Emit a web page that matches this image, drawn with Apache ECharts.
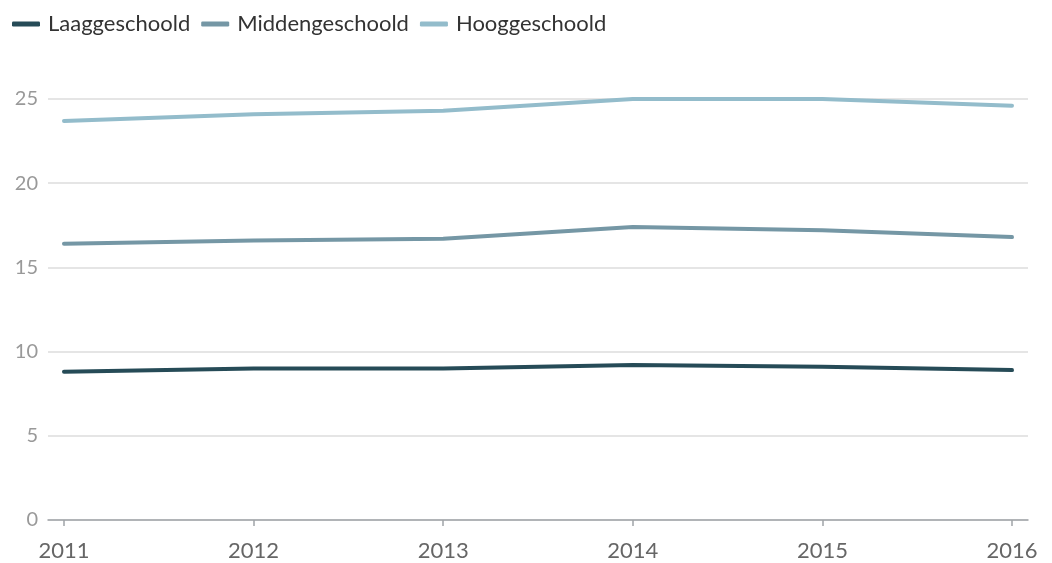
<!DOCTYPE html>
<html><head><meta charset="utf-8">
<script src="https://cdn.jsdelivr.net/npm/echarts@6/dist/echarts.min.js"></script>
<style>html,body{margin:0;padding:0;background:#fff}#c{width:1052px;height:563px}</style>
</head><body><div id="c"></div>
<script>
const years = [2011, 2012, 2013, 2014, 2015, 2016];
const laag = [8.8, 9.0, 9.0, 9.2, 9.1, 8.9];
const midden = [16.4, 16.6, 16.7, 17.4, 17.2, 16.8];
const hoog = [23.7, 24.1, 24.3, 25.0, 25.0, 24.6];
const names = ['Laaggeschoold', 'Middengeschoold', 'Hooggeschoold'];
const colors = ['#264b57', '#7597a5', '#93bccb'];
const pad = 16 / 189.6;
const chart = echarts.init(document.getElementById('c'));
const mk = (name, vals, color) => ({
  name, type: 'line', data: years.map((y, i) => [y, vals[i]]),
  showSymbol: false, symbol: 'none', lineStyle: { width: 4, color, cap: 'round' }, itemStyle: { color },
  emphasis: { disabled: true }, animation: false
});
chart.setOption({
  animation: false,
  textStyle: { fontFamily: 'Lato' },
  legend: {
    left: 7, top: 8, itemWidth: 28, itemHeight: 5, itemGap: 11,
    icon: 'roundRect',
    textStyle: { fontSize: 22, color: '#333', fontFamily: 'Lato', padding: [0, 0, 0, 3] },
    data: names
  },
  grid: { left: 48, right: 24, top: 99, bottom: 43, containLabel: false },
  xAxis: {
    type: 'value', min: years[0] - pad, max: years[years.length - 1] + pad,
    axisLine: { show: true, lineStyle: { color: '#a0a4a8', width: 1.5 } },
    axisTick: { show: true, length: 6, customValues: years, lineStyle: { color: '#a0a4a8', width: 1.5 } },
    axisLabel: { customValues: years, margin: 20, fontSize: 22, color: '#666', fontFamily: 'Lato', formatter: v => String(Math.round(v)) },
    splitLine: { show: false }
  },
  yAxis: {
    type: 'value', min: 0, max: 25, interval: 5,
    axisLine: { show: false }, axisTick: { show: false },
    axisLabel: { margin: 10, fontSize: 20, color: '#999', fontFamily: 'Lato' },
    splitLine: { lineStyle: { color: '#dcdcdc', width: 1.5 } }
  },
  series: [mk(names[0], laag, colors[0]), mk(names[1], midden, colors[1]), mk(names[2], hoog, colors[2])]
});
</script></body></html>
